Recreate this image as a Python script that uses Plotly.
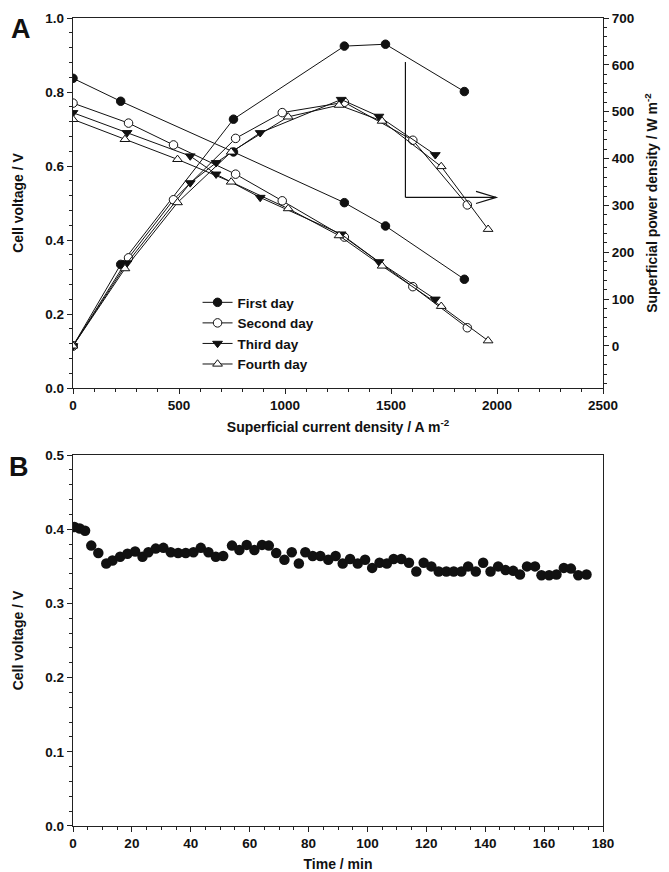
"""Polarisation curves over four days (A) and cell voltage vs time (B)."""
import plotly.graph_objects as go

# ---- Panel A: current density (A m-2), voltage (V), power density (W m-2)
dias = ["First day", "Second day", "Third day", "Fourth day"]

i_first = [0, 225, 757, 1280, 1474, 1846]
v_first = [0.837, 0.775, 0.638, 0.501, 0.438, 0.294]
p_first = [0, 174, 484, 640, 644, 543]

i_second = [0, 262, 474, 767, 987, 1280, 1603, 1860]
v_second = [0.770, 0.716, 0.657, 0.578, 0.506, 0.408, 0.274, 0.163]
p_second = [0, 188, 312, 443, 498, 520, 439, 301]

i_third = [0, 255, 553, 675, 883, 1265, 1443, 1709]
v_third = [0.744, 0.690, 0.627, 0.578, 0.515, 0.416, 0.341, 0.240]
p_third = [0, 177, 348, 391, 455, 526, 490, 408]

i_fourth = [0, 245, 493, 746, 1015, 1255, 1458, 1737, 1958]
v_fourth = [0.726, 0.672, 0.618, 0.557, 0.485, 0.412, 0.330, 0.221, 0.128]
p_fourth = [0, 165, 306, 414, 489, 514, 480, 383, 249]

# ---- Panel B: long-run cell voltage
t_min = [0.5, 2.3, 4.1, 6.2, 8.6, 11.3, 13.4, 16.0, 18.5, 21.1,
         23.6, 25.6, 28.1, 30.7, 33.2, 35.7, 38.3, 40.9, 43.4, 46.0,
         48.5, 51.0, 54.0, 56.5, 59.0, 61.6, 64.2, 66.5, 69.0, 71.8,
         74.3, 76.7, 78.9, 81.4, 84.0, 86.7, 89.2, 91.6, 94.1, 96.7,
         99.2, 101.6, 104.1, 106.6, 108.9, 111.5, 114.1, 116.6, 119.1, 121.7,
         124.2, 126.8, 129.3, 131.9, 134.2, 136.8, 139.3, 141.8, 144.4, 146.9,
         149.5, 151.8, 154.2, 156.9, 159.1, 161.7, 164.2, 166.7, 169.1, 171.6,
         174.4]
v_cell = [0.403, 0.401, 0.398, 0.378, 0.368, 0.354, 0.358, 0.363, 0.367, 0.370,
          0.363, 0.369, 0.374, 0.375, 0.369, 0.368, 0.368, 0.369, 0.375, 0.369,
          0.363, 0.364, 0.378, 0.372, 0.379, 0.372, 0.379, 0.378, 0.368, 0.359,
          0.369, 0.354, 0.369, 0.364, 0.364, 0.359, 0.364, 0.354, 0.360, 0.354,
          0.359, 0.348, 0.355, 0.354, 0.360, 0.360, 0.355, 0.343, 0.355, 0.350,
          0.343, 0.343, 0.343, 0.343, 0.350, 0.343, 0.355, 0.343, 0.350, 0.345,
          0.344, 0.339, 0.350, 0.350, 0.338, 0.338, 0.339, 0.348, 0.347, 0.338,
          0.339]

FONT = "Liberation Sans, Arial, sans-serif"
PRETO = "#111111"
LINHA = "#222222"

series = [
    (dias[0], i_first, v_first, p_first, "circle", PRETO),
    (dias[1], i_second, v_second, p_second, "circle", "white"),
    (dias[2], i_third, v_third, p_third, "triangle-down", PRETO),
    (dias[3], i_fourth, v_fourth, p_fourth, "triangle-up", "white"),
]

fig = go.Figure()

for nome, i_, v_, p_, simb, cor in series:
    mk = dict(symbol=simb, size=8.5, color=cor, line=dict(color=PRETO, width=1))
    fig.add_trace(go.Scatter(
        x=i_, y=p_, yaxis="y2", xaxis="x", mode="lines+markers",
        line=dict(color=PRETO, width=1), marker=mk, showlegend=False,
    ))
    fig.add_trace(go.Scatter(
        x=i_, y=v_, yaxis="y", xaxis="x", mode="lines+markers", name=nome,
        line=dict(color=PRETO, width=1), marker=mk,
    ))

fig.add_trace(go.Scatter(
    x=t_min, y=v_cell, xaxis="x2", yaxis="y3", mode="markers",
    marker=dict(symbol="circle", size=10.5, color=PRETO), showlegend=False,
))

# arrow pointing the power curves to the right-hand axis
seta_x0, seta_x1 = 1568, 1996
seta_top, seta_base = 606, 317
fig.add_shape(type="line", xref="x", yref="y2", x0=seta_x0, x1=seta_x0,
              y0=seta_top, y1=seta_base, line=dict(color=PRETO, width=1.2))
fig.add_shape(type="line", xref="x", yref="y2", x0=seta_x0, x1=seta_x1,
              y0=seta_base, y1=seta_base, line=dict(color=PRETO, width=1.2))
fig.add_shape(type="path", xref="x", yref="y2",
              path=f"M {seta_x1 - 95},{seta_base + 13} L {seta_x1},{seta_base} "
                   f"L {seta_x1 - 95},{seta_base - 13}",
              line=dict(color=PRETO, width=1.2))

tick_font = dict(family=FONT, size=13.5, color=PRETO, weight="bold")
title_font = dict(family=FONT, size=14, color=PRETO, weight="bold")
eixo = dict(showline=True, linecolor=LINHA, linewidth=1.3, ticks="outside",
            ticklen=5, tickwidth=1.2, tickcolor=LINHA, showgrid=False,
            zeroline=False, tickfont=tick_font, automargin=False)
dentro = dict(showline=False, ticks="inside", ticklen=4, tickwidth=1.2,
              tickcolor=LINHA, showgrid=False, zeroline=False,
              showticklabels=False, automargin=False)

YA = [0.542, 1.0]
YB = [0.0, 0.459]

# the page body adds an 8 px offset, so the figure is 8 px smaller each way
fig.update_layout(
    width=661, height=864,
    margin=dict(l=65, r=66, t=10, b=46),
    paper_bgcolor="white", plot_bgcolor="white",
    font=dict(family=FONT, color=PRETO),
    xaxis=dict(**eixo, domain=[0, 1], anchor="y", range=[0, 2500], mirror=True,
               tickvals=[0, 500, 1000, 1500, 2000, 2500],
               minor=dict(dtick=100, ticks="outside", ticklen=3, tickcolor=LINHA),
               title=dict(text="Superficial current density / A m<sup>-2</sup>",
                          font=title_font, standoff=9)),
    yaxis=dict(**eixo, domain=YA, anchor="x", range=[0, 1.0],
               tickvals=[0, 0.2, 0.4, 0.6, 0.8, 1.0], tickformat=".1f",
               minor=dict(dtick=0.04, ticks="outside", ticklen=3, tickcolor=LINHA),
               title=dict(text="Cell voltage / V", font=title_font, standoff=18)),
    yaxis2=dict(**eixo, overlaying="y", side="right", anchor="x",
                range=[-90, 700], tickvals=[0, 100, 200, 300, 400, 500, 600, 700],
                minor=dict(dtick=20, ticks="outside", ticklen=3, tickcolor=LINHA),
                title=dict(text="Superficial power density / W m<sup>-2</sup>",
                           font=title_font, standoff=13)),
    xaxis3=dict(**dentro, overlaying="x", side="top", anchor="y", range=[0, 2500],
                tickvals=[0, 500, 1000, 1500, 2000, 2500],
                minor=dict(dtick=100, ticks="inside", ticklen=2.5, tickcolor=LINHA)),
    xaxis2=dict(**eixo, domain=[0, 1], anchor="y3", range=[0, 180], dtick=20,
                mirror=True,
                minor=dict(dtick=5, ticks="outside", ticklen=3, tickcolor=LINHA),
                title=dict(text="Time / min", font=title_font, standoff=9)),
    yaxis3=dict(**eixo, domain=YB, anchor="x2", range=[0, 0.5], dtick=0.1,
                tickformat=".1f", mirror=True,
                minor=dict(dtick=0.02, ticks="outside", ticklen=3, tickcolor=LINHA),
                title=dict(text="Cell voltage / V", font=title_font, standoff=18)),
    xaxis4=dict(**dentro, overlaying="x2", side="top", anchor="y3", range=[0, 180],
                dtick=20,
                minor=dict(dtick=5, ticks="inside", ticklen=2.5, tickcolor=LINHA)),
    yaxis4=dict(**dentro, overlaying="y3", side="right", anchor="x2", range=[0, 0.5],
                dtick=0.1,
                minor=dict(dtick=0.02, ticks="inside", ticklen=2.5, tickcolor=LINHA)),
    legend=dict(x=0.235, y=0.667, xanchor="left", yanchor="top",
                bgcolor="rgba(0,0,0,0)", font=dict(family=FONT, size=13.5,
                                                   color=PRETO, weight="bold"),
                itemwidth=30, tracegroupgap=0),
    annotations=[
        dict(text="A", xref="paper", yref="paper", x=-0.121, y=1.008,
             xanchor="left", yanchor="top", showarrow=False,
             font=dict(family=FONT, size=27, color=PRETO, weight="bold")),
        dict(text="B", xref="paper", yref="paper", x=-0.124, y=0.465,
             xanchor="left", yanchor="top", showarrow=False,
             font=dict(family=FONT, size=27, color=PRETO, weight="bold")),
    ],
)

fig.write_html("out.html")
